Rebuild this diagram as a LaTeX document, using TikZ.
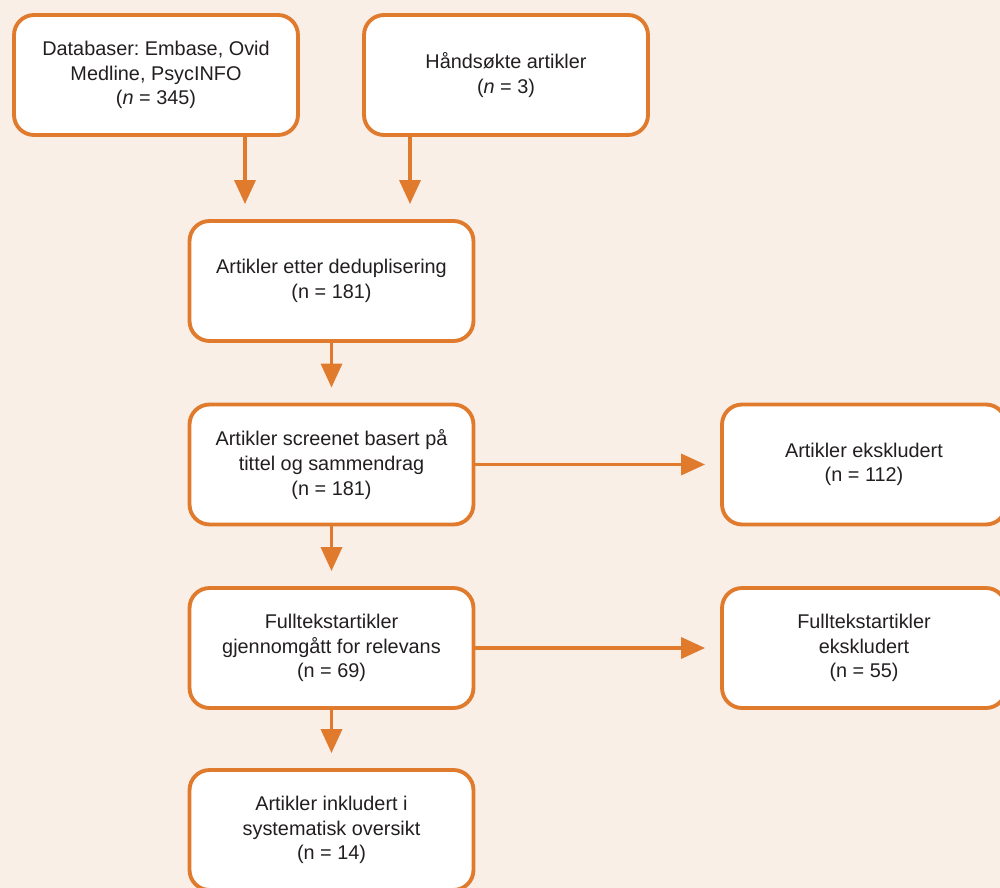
\documentclass[tikz,border=0pt]{standalone}
\usepackage{fontspec}
\setmainfont{Liberation Sans}
\usetikzlibrary{arrows.meta}
\definecolor{flowor}{HTML}{E07B2E}
\definecolor{flowbg}{HTML}{FAEFE7}
\definecolor{flowtxt}{HTML}{231F20}
\frenchspacing
\begin{document}
\begin{tikzpicture}[x=0.02cm,y=-0.02cm]
		\clip (0,0) rectangle (1000,888);
		\fill[flowbg] (0,0) rectangle (1000,888);
		
		\begin{scope}[every node/.style={rectangle,rounded corners=0.4cm,draw=flowor,line width=2.2pt,fill=white,text=flowtxt,align=center,minimum width=5.68cm,minimum height=2.4cm,font=\fontsize{11.3}{14}\selectfont}]
			\node (db) at (156,75) {Databaser: Embase, Ovid\\Medline, PsycINFO\\(\textit{n} = 345)};
			\node (hand) at (506,75) {Håndsøkte artikler\\(\textit{n} = 3)};
			\node (dedup) at (331.5,281) {Artikler etter deduplisering\\(n = 181)};
			\node (screen) at (331.5,464.5) {Artikler screenet basert på\\tittel og sammendrag\\(n = 181)};
			\node (excl) at (864,464.5) {Artikler ekskludert\\(n = 112)};
			\node (full) at (331.5,648) {Fulltekstartikler\\gjennomgått for relevans\\(n = 69)};
			\node (fullexcl) at (864,648) {Fulltekstartikler\\ekskludert\\(n = 55)};
			\node (incl) at (331.5,830) {Artikler inkludert i\\systematisk oversikt\\(n = 14)};
		\end{scope}
		
		\coordinate (a1) at (245,0);
		\coordinate (a2) at (410,0);
		
		\begin{scope}[color=flowor,line width=2pt,-{Triangle[width=0.42cm,length=0.48cm]},shorten >=0.3cm]
			\path (db.south -| a1) edge (dedup.north -| a1);
			\path (hand.south -| a2) edge (dedup.north -| a2);
			\path (dedup) edge (screen);
			\path (screen) edge (excl);
			\path (screen) edge (full);
			\path (full) edge (fullexcl);
			\path (full) edge (incl);
		\end{scope}
	\end{tikzpicture}
\end{document}
